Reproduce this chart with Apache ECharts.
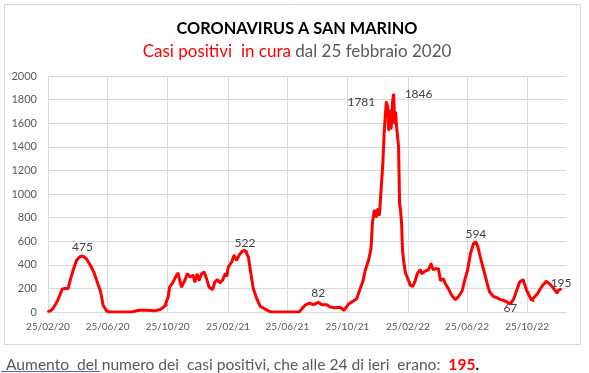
<!DOCTYPE html>
<html>
<head>
<meta charset="utf-8">
<script src="https://cdn.jsdelivr.net/npm/echarts@6/dist/echarts.min.js"></script>
<style>
html,body{margin:0;padding:0;background:#fff;}
#chart{width:589px;height:373px;}
</style>
</head>
<body>
<div id="chart"></div>
<script>
// Days elapsed since 25/02/2020 (start of the series)
const dayOffsets = [
  0,5,10,20,29,35,41,45,51,58,64,70,74,78,86,93,100,107,112,119,125,
  170,180,186,200,210,217,227,237,241,244,247,254,261,264,271,278,283,288,295,298,
  303,307,312,317,322,327,334,339,344,349,355,360,363,366,373,378,383,389,395,400,
  404,407,412,417,424,431,441,447,454,
  510,522,531,539,549,556,566,573,583,593,601,610,620,627,634,640,644,651,656,659,
  663,667,670,673,676,680,683,687,690,692,694,697,700,702,704,706,708,712,714,716,
  718,720,723,726,730,736,741,746,750,756,759,766,773,778,782,788,793,797,803,807,
  813,820,827,834,841,848,852,858,864,869,873,878,885,892,897,904,912,919,925,932,
  939,946,953,958,965,972,976,982,986,994,1003,1012,1020,1027,1034,1037,1042
];
// Casi positivi in cura
const activeCases = [
  5,10,29,99,195,200,200,268,353,438,466,475,470,452,396,339,254,170,57,8,0,
  0,10,15,15,12,10,20,48,57,127,212,254,311,330,212,269,325,297,311,254,
  320,269,325,339,283,212,190,254,274,246,274,325,302,381,424,480,438,488,517,522,
  515,466,325,198,113,48,25,10,0,
  0,57,76,62,82,62,62,42,36,40,14,65,93,113,198,268,347,438,537,763,
  862,805,876,819,1003,1257,1540,1781,1737,1540,1709,1554,1794,1846,1596,1695,1568,1398,918,860,
  760,520,410,330,290,226,218,268,325,359,325,347,359,410,359,367,367,268,282,240,
  198,141,105,133,178,297,353,494,579,594,551,466,353,240,169,133,121,105,99,85,
  67,113,198,254,274,184,169,99,93,155,218,260,234,198,161,184,195
];
// Points carrying a value label
const labelledDays = [70, 400, 549, 687, 702, 869, 939, 1042];

const startDate = [2020, 1, 25];
const axisEndDate = [2023, 0, 12];
const tickDates = ['2020-02-25','2020-06-25','2020-10-25','2021-02-25','2021-06-25','2021-10-25','2022-02-25','2022-06-25','2022-10-25'];
const tickLabels = ['25/02/20','25/06/20','25/10/20','25/02/21','25/06/21','25/10/21','25/02/22','25/06/22','25/10/22'];
const yTicks = [0,200,400,600,800,1000,1200,1400,1600,1800,2000];

const labelStyles = {
  70:   {position:'top', distance:2, offset:[1,0]},
  400:  {position:'top', distance:0, offset:[-3,0]},
  549:  {position:'top', distance:2, offset:[2,0]},
  687:  {position:'left', distance:10, offset:[0,0]},
  702:  {position:'right', distance:10, offset:[0,0]},
  869:  {position:'top', distance:1, offset:[5,0]},
  939:  {position:'bottom', distance:-3, offset:[5,0]},
  1042: {position:'top', distance:-1, offset:[6,0]}
};

const DAY = 86400000;
function dayToTime(d){ return Date.UTC(startDate[0], startDate[1], startDate[2]) + d * DAY; }
function parseTick(s){ const p = s.split('-').map(Number); return Date.UTC(p[0], p[1]-1, p[2]); }
const tickTimes = tickDates.map(parseTick);
const tickLabelByTime = {};
tickTimes.forEach((t,i)=>{ tickLabelByTime[t] = tickLabels[i]; });

const seriesData = dayOffsets.map((d,i)=>{
  const item = {value:[dayToTime(d), activeCases[i]]};
  if (labelledDays.indexOf(d) >= 0) {
    const s = labelStyles[d];
    item.label = {show:true, position:s.position, distance:s.distance, offset:s.offset,
      formatter: String(activeCases[i]), color:'#404040', fontSize:12, fontFamily:'Lato', fontWeight:'normal'};
  }
  return item;
});

const chart = echarts.init(document.getElementById('chart'), null, {renderer:'canvas'});
chart.setOption({
  animation:false,
  backgroundColor:'#ffffff',
  textStyle:{fontFamily:'Lato'},
  title:[
    {text:'CORONAVIRUS A SAN MARINO', left:292, top:16, textAlign:'center',
     textStyle:{fontFamily:'Lato', fontWeight:'bold', fontSize:16.3, color:'#000000'}},
    {text:'{r|Casi positivi  in cura} {g|dal 25 febbraio 2020}', left:292, top:38, textAlign:'center',
     textStyle:{fontFamily:'Lato', fontWeight:'normal', fontSize:17, rich:{
       r:{fontFamily:'Lato', fontSize:17, fontWeight:'normal', color:'#ff0000'},
       g:{fontFamily:'Lato', fontSize:17, fontWeight:'normal', color:'#595959'}}}},
    {text:'{u|Aumento  del} numero dei  casi positivi, che alle 24 di ieri  erano:  {b|195}{k|.}', left:1, top:352,
     textStyle:{fontFamily:'Lato', fontSize:15.6, fontWeight:'normal', color:'#595959',
       rich:{
         u:{fontFamily:'Lato', fontSize:15.6, fontWeight:'normal', color:'#595959'},
         b:{fontFamily:'Lato', fontSize:15.6, fontWeight:'bold', color:'#ff0000'},
         k:{fontFamily:'Lato', fontSize:15.6, fontWeight:'bold', color:'#000000'}}}}
  ],
  graphic:[
    {type:'rect', shape:{x:4.5, y:4.5, width:576, height:340}, style:{fill:'none', stroke:'#d9d9d9', lineWidth:1}, z:-1},
    {type:'line', shape:{x1:1, y1:371.5, x2:100, y2:371.5}, style:{stroke:'#2f6fd6', lineWidth:1}}
  ],
  grid:{left:48, right:23, top:76, bottom:61, containLabel:false},
  xAxis:{
    type:'value',
    min:dayToTime(0),
    max:Date.UTC(axisEndDate[0], axisEndDate[1], axisEndDate[2]),
    axisLine:{show:true, lineStyle:{color:'#d9d9d9'}},
    axisTick:{show:false, customValues:tickTimes},
    axisLabel:{customValues:tickTimes, color:'#595959', fontSize:10, fontFamily:'Lato', margin:10,
      formatter:function(v){ return tickLabelByTime[v] || ''; }, showMinLabel:true, showMaxLabel:true, hideOverlap:false},
    splitLine:{show:true, lineStyle:{color:'#d9d9d9', width:1}}
  },
  yAxis:{
    type:'value', min:yTicks[0], max:yTicks[yTicks.length-1], interval:200,
    axisLine:{show:false}, axisTick:{show:false},
    axisLabel:{color:'#595959', fontSize:11, fontFamily:'Lato', margin:11,
      formatter:function(v){ return String(v); }},
    splitLine:{show:true, lineStyle:{color:'#d9d9d9', width:1}}
  },
  series:[{
    type:'line', data:seriesData, showSymbol:true, symbol:'circle', symbolSize:2, smooth:false,
    lineStyle:{color:'#ff0000', width:3}, itemStyle:{color:'#ff0000', borderWidth:0},
    labelLayout:{hideOverlap:false}
  }]
});
</script>
</body>
</html>
